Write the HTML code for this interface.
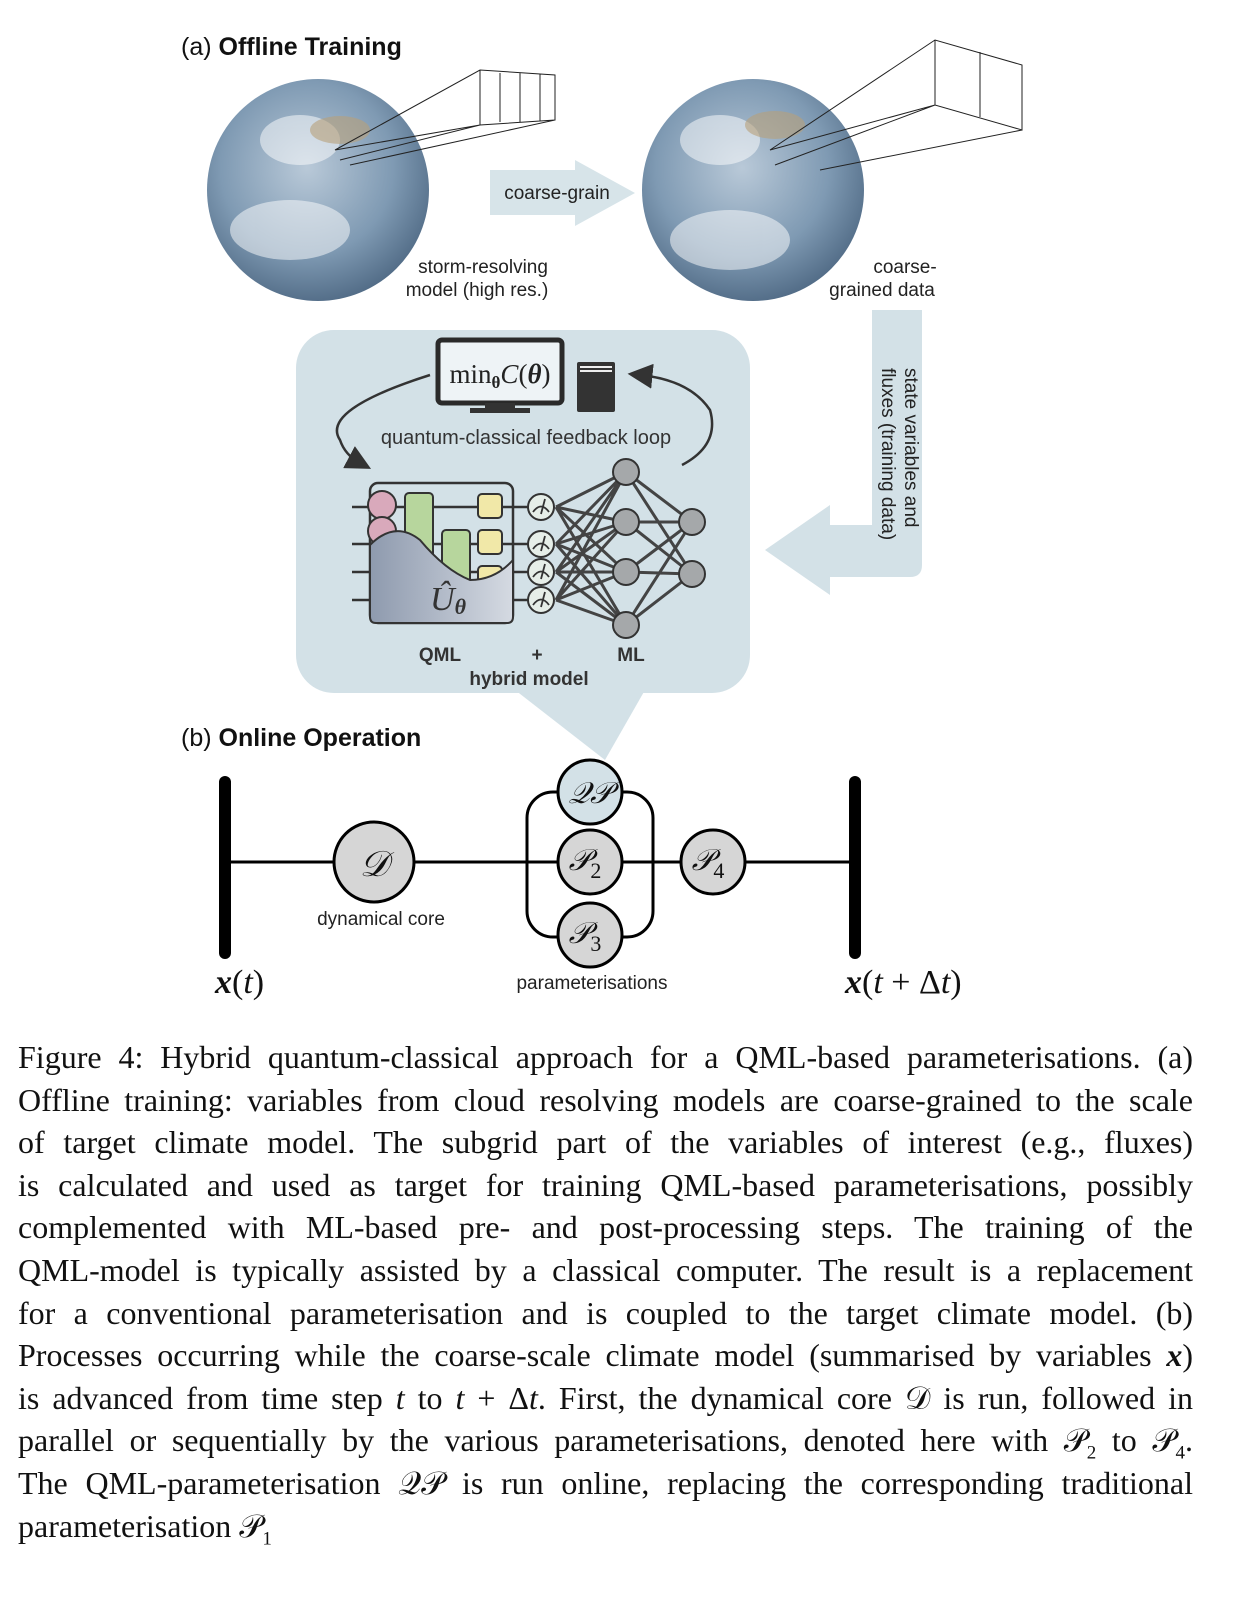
<!DOCTYPE html>
<html><head><meta charset="utf-8"><style>
body{margin:0;background:#fff;width:1251px;height:1602px;position:relative;overflow:hidden}
svg{position:absolute;left:0;top:0}
.cap{position:absolute;left:18px;width:1175px;font-family:"Liberation Serif",serif;font-size:32px;color:#111}
.cap div{height:42.6px;line-height:42.6px;text-align:justify;text-align-last:justify;white-space:nowrap}
.cap div.l{text-align-last:left}
</style></head><body>
<svg width="1251" height="1020" viewBox="0 0 1251 1020">
<defs>
<radialGradient id="g" cx="0.45" cy="0.4" r="0.65"><stop offset="0" stop-color="#b9c9d8"/><stop offset="0.6" stop-color="#7f9ab3"/><stop offset="1" stop-color="#4b6580"/></radialGradient>
<linearGradient id="u" x1="0" x2="1"><stop offset="0" stop-color="#8e9aae"/><stop offset="1" stop-color="#d5dae2"/></linearGradient>
<marker id="ah" markerWidth="10" markerHeight="10" refX="5" refY="5" orient="auto"><path d="M0,0 L10,5 L0,10 Z" fill="#333"/></marker>
<g id="meter"><circle r="13" fill="#e6eee8" stroke="#333" stroke-width="2"/><path d="M-8,5 Q0,-6 8,5 M0,7 L4,-8" fill="none" stroke="#333" stroke-width="1.8"/></g>
</defs>
<text x="181" y="55" font-family="Liberation Sans" font-size="25" fill="#111">(a) <tspan font-weight="bold">Offline Training</tspan></text>
<circle cx="318" cy="190" r="111" fill="url(#g)"/>
<circle cx="753" cy="190" r="111" fill="url(#g)"/>
<g fill="#fff" opacity="0.5"><ellipse cx="290" cy="230" rx="60" ry="30"/><ellipse cx="730" cy="240" rx="60" ry="30"/><ellipse cx="300" cy="140" rx="40" ry="25"/><ellipse cx="720" cy="140" rx="40" ry="25"/></g>
<g fill="#b7a07a" opacity="0.6"><ellipse cx="340" cy="130" rx="30" ry="14"/><ellipse cx="775" cy="125" rx="30" ry="14"/></g>
<g fill="none" stroke="#222" stroke-width="1"><path d="M335,150 L480,70 L555,75 L555,120 L480,125 Z M340,160 L480,125 M350,165 L555,120 M480,70 L480,125 M500,73 L500,122 M520,73 L520,122 M540,74 L540,121"/>
<path d="M770,150 L935,40 L1022,65 L1022,130 L935,105 Z M775,165 L935,105 M820,170 L1022,130 M935,40 L935,105 M980,52 L980,117"/></g>
<path d="M490,170 L575,170 L575,160 L635,193 L575,226 L575,215 L490,215 Z" fill="#d3e1e7" opacity="0.9"/>
<text x="557" y="199" text-anchor="middle" font-family="Liberation Sans" font-size="19" fill="#222">coarse-grain</text>
<text x="483" y="273" text-anchor="middle" font-family="Liberation Sans" font-size="19" fill="#222">storm-resolving</text>
<text x="477" y="296" text-anchor="middle" font-family="Liberation Sans" font-size="19" fill="#222">model (high res.)</text>
<text x="905" y="273" text-anchor="middle" font-family="Liberation Sans" font-size="19" fill="#222">coarse-</text>
<text x="882" y="296" text-anchor="middle" font-family="Liberation Sans" font-size="19" fill="#222">grained data</text>
<path d="M872,310 L922,310 L922,565 Q922,577 910,577 L830,577 L830,595 L765,550 L830,505 L830,525 L872,525 Z" fill="#d3e1e7"/>
<text transform="translate(905,368) rotate(90)" font-family="Liberation Sans" font-size="19" fill="#222">state variables and</text>
<text transform="translate(882,368) rotate(90)" font-family="Liberation Sans" font-size="19" fill="#222">fluxes (training data)</text>
<rect x="296" y="330" width="454" height="363" rx="38" fill="#d3e1e7"/>
<path d="M515,690 L645,690 L605,760 Z" fill="#d3e1e7"/>
<rect x="438" y="340" width="124" height="63" rx="4" fill="#eef3f6" stroke="#2a2a2a" stroke-width="5"/>
<rect x="485" y="403" width="30" height="7" fill="#333"/><rect x="470" y="408" width="60" height="5" fill="#333"/>
<text x="500" y="383" text-anchor="middle" font-family="Liberation Serif" font-size="27" fill="#222">min<tspan font-size="17" font-weight="bold" dy="5">θ</tspan><tspan dy="-5" font-style="italic">C</tspan>(<tspan font-weight="bold" font-style="italic">θ</tspan>)</text>
<rect x="577" y="362" width="38" height="50" rx="2" fill="#333"/><rect x="580" y="366" width="32" height="2" fill="#eee"/><rect x="580" y="370" width="32" height="2" fill="#eee"/>
<path d="M430,375 Q320,410 340,440 Q345,455 360,463" fill="none" stroke="#333" stroke-width="2.5" marker-end="url(#ah)"/>
<path d="M682,465 Q720,445 710,410 Q690,380 640,375" fill="none" stroke="#333" stroke-width="2.5" marker-end="url(#ah)"/>
<text x="526" y="444" text-anchor="middle" font-family="Liberation Sans" font-size="20" fill="#333">quantum-classical feedback loop</text>
<g stroke="#333" stroke-width="2.5"><line x1="352" y1="507" x2="545" y2="507"/><line x1="352" y1="544" x2="545" y2="544"/><line x1="352" y1="572" x2="545" y2="572"/><line x1="352" y1="600" x2="545" y2="600"/></g>
<rect x="370" y="483" width="143" height="140" rx="8" fill="none" stroke="#333" stroke-width="2.5"/>
<circle cx="382" cy="505" r="14" fill="#d9a9bb" stroke="#333" stroke-width="2"/>
<circle cx="382" cy="531" r="14" fill="#d9a9bb" stroke="#333" stroke-width="2"/>
<rect x="405" y="493" width="28" height="85" rx="4" fill="#b7d69d" stroke="#333" stroke-width="2"/>
<rect x="442" y="530" width="28" height="60" rx="4" fill="#b7d69d" stroke="#333" stroke-width="2"/>
<rect x="478" y="494" width="24" height="24" rx="4" fill="#f1e8a8" stroke="#333" stroke-width="2"/>
<rect x="478" y="530" width="24" height="24" rx="4" fill="#f1e8a8" stroke="#333" stroke-width="2"/>
<rect x="478" y="566" width="24" height="24" rx="4" fill="#f1e8a8" stroke="#333" stroke-width="2"/>
<path d="M370,545 Q395,520 420,540 Q445,570 470,580 Q495,580 513,560 L513,617 Q513,623 507,623 L376,623 Q370,623 370,617 Z" fill="url(#u)" stroke="#333" stroke-width="2"/>
<text x="430" y="610" font-family="Liberation Serif" font-style="italic" font-size="34" fill="#333">Û<tspan font-size="22" font-weight="bold" dy="4">θ</tspan></text>
<use href="#meter" x="541" y="507"/><use href="#meter" x="541" y="544"/><use href="#meter" x="541" y="572"/><use href="#meter" x="541" y="600"/>
<g stroke="#444" stroke-width="3">
<path d="M556,507 L626,472 M556,507 L626,522 M556,507 L626,572 M556,507 L626,625 M556,544 L626,472 M556,544 L626,522 M556,544 L626,572 M556,544 L626,625 M556,572 L626,472 M556,572 L626,522 M556,572 L626,572 M556,572 L626,625 M556,600 L626,472 M556,600 L626,522 M556,600 L626,572 M556,600 L626,625"/>
<path d="M626,472 L692,522 M626,472 L692,574 M626,522 L692,522 M626,522 L692,574 M626,572 L692,522 M626,572 L692,574 M626,625 L692,522 M626,625 L692,574"/></g>
<g fill="#a5a8aa" stroke="#333" stroke-width="2"><circle cx="626" cy="472" r="13"/><circle cx="626" cy="522" r="13"/><circle cx="626" cy="572" r="13"/><circle cx="626" cy="625" r="13"/><circle cx="692" cy="522" r="13"/><circle cx="692" cy="574" r="13"/></g>
<text x="440" y="661" text-anchor="middle" font-family="Liberation Sans" font-weight="bold" font-size="19" fill="#333">QML</text>
<text x="537" y="661" text-anchor="middle" font-family="Liberation Sans" font-weight="bold" font-size="19" fill="#333">+</text>
<text x="631" y="661" text-anchor="middle" font-family="Liberation Sans" font-weight="bold" font-size="19" fill="#333">ML</text>
<text x="529" y="685" text-anchor="middle" font-family="Liberation Sans" font-weight="bold" font-size="19" fill="#333">hybrid model</text>
<text x="181" y="746" font-family="Liberation Sans" font-size="25" fill="#111">(b) <tspan font-weight="bold">Online Operation</tspan></text>
<line x1="225" y1="782" x2="225" y2="953" stroke="#000" stroke-width="12" stroke-linecap="round"/>
<line x1="855" y1="782" x2="855" y2="953" stroke="#000" stroke-width="12" stroke-linecap="round"/>
<line x1="225" y1="862" x2="855" y2="862" stroke="#000" stroke-width="3"/>
<rect x="527" y="792" width="126" height="145" rx="26" fill="none" stroke="#000" stroke-width="3"/>
<g stroke="#000" stroke-width="3"><circle cx="374" cy="862" r="40" fill="#d6d6d6"/><circle cx="590" cy="792" r="32" fill="#d3e1e7"/><circle cx="590" cy="862" r="32" fill="#d6d6d6"/><circle cx="590" cy="935" r="32" fill="#d6d6d6"/><circle cx="713" cy="862" r="32" fill="#d6d6d6"/></g>
<g font-family="Liberation Serif" font-style="italic" fill="#111" text-anchor="middle">
<text x="374" y="876" font-size="36">𝒟</text>
<text x="590" y="803" font-size="30">𝒬𝒫</text>
<text x="585" y="870" font-size="30">𝒫<tspan font-style="normal" font-size="22" dy="8">2</tspan></text>
<text x="585" y="943" font-size="30">𝒫<tspan font-style="normal" font-size="22" dy="8">3</tspan></text>
<text x="708" y="870" font-size="30">𝒫<tspan font-style="normal" font-size="22" dy="8">4</tspan></text>
</g>
<text x="381" y="925" text-anchor="middle" font-family="Liberation Sans" font-size="19" fill="#222">dynamical core</text>
<text x="592" y="989" text-anchor="middle" font-family="Liberation Sans" font-size="19" fill="#222">parameterisations</text>
<text x="215" y="993" font-family="Liberation Serif" font-size="34" fill="#111"><tspan font-weight="bold" font-style="italic">x</tspan>(<tspan font-style="italic">t</tspan>)</text>
<text x="845" y="993" font-family="Liberation Serif" font-size="34" fill="#111"><tspan font-weight="bold" font-style="italic">x</tspan>(<tspan font-style="italic">t</tspan> + Δ<tspan font-style="italic">t</tspan>)</text>
</svg>
<div class="cap" style="top:1036px">
<div>Figure 4: Hybrid quantum-classical approach for a QML-based parameterisations. (a)</div>
<div>Offline training: variables from cloud resolving models are coarse-grained to the scale</div>
<div>of target climate model. The subgrid part of the variables of interest (e.g., fluxes)</div>
<div>is calculated and used as target for training QML-based parameterisations, possibly</div>
<div>complemented with ML-based pre- and post-processing steps. The training of the</div>
<div>QML-model is typically assisted by a classical computer. The result is a replacement</div>
<div>for a conventional parameterisation and is coupled to the target climate model. (b)</div>
<div>Processes occurring while the coarse-scale climate model (summarised by variables <b><i>x</i></b>)</div>
<div>is advanced from time step <i>t</i> to <i>t</i> + Δ<i>t</i>. First, the dynamical core 𝒟 is run, followed in</div>
<div>parallel or sequentially by the various parameterisations, denoted here with 𝒫<sub style="font-size:19px">2</sub> to 𝒫<sub style="font-size:19px">4</sub>.</div>
<div>The QML-parameterisation 𝒬𝒫 is run online, replacing the corresponding traditional</div>
<div class="l">parameterisation 𝒫<sub style="font-size:19px">1</sub></div>
</div>
</body></html>
